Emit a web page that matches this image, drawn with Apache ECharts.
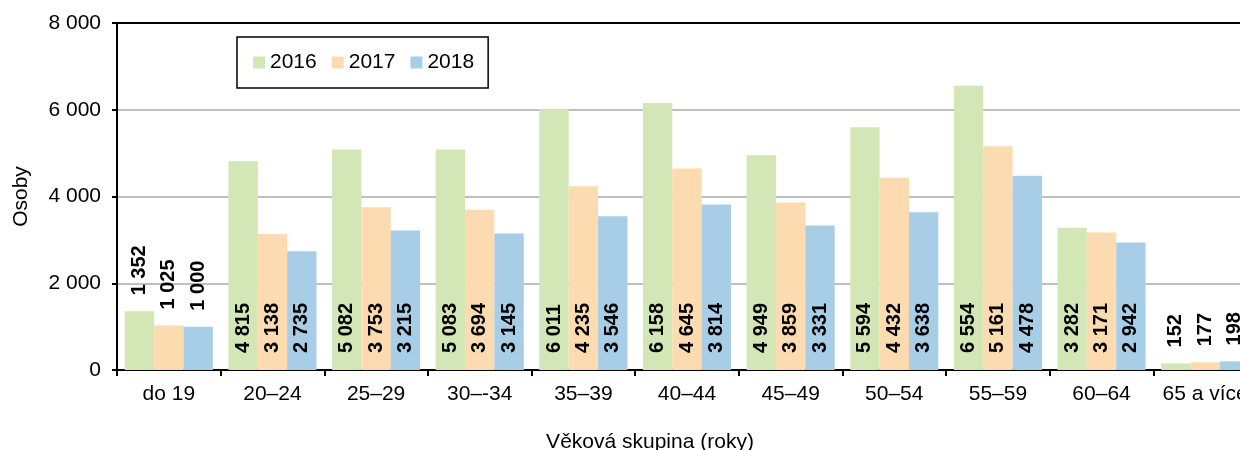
<!DOCTYPE html>
<html>
<head>
<meta charset="utf-8">
<script src="https://cdn.jsdelivr.net/npm/echarts@6/dist/echarts.min.js"></script>
<style>
html, body { margin: 0; padding: 0; background: #fff; }
#chart { width: 1240px; height: 450px; }
</style>
</head>
<body>
<div id="chart"></div>
<script>
var categories = ['do 19', '20–24', '25–29', '30–-34', '35–39', '40–44', '45–49', '50–54', '55–59', '60–64', '65 a více'];
var seriesNames = ['2016', '2017', '2018'];
var values2016 = [1352, 4815, 5082, 5083, 6011, 6158, 4949, 5594, 6554, 3282, 152];
var values2017 = [1025, 3138, 3753, 3694, 4235, 4645, 3859, 4432, 5161, 3171, 177];
var values2018 = [1000, 2735, 3215, 3145, 3546, 3814, 3331, 3638, 4478, 2942, 198];
var yTicks = [0, 2000, 4000, 6000, 8000];

var colors = ['#d3e7b6', '#fcdbb0', '#a8cde7'];
var fontName = "'Liberation Sans', Arial, sans-serif";

function fmt(v) {
    return String(v).replace(/\B(?=(\d{3})+(?!\d))/g, ' ');
}

// small bars get the label above the bar, the rest inside at the base
function buildData(arr) {
    return arr.map(function (v) {
        if (v < 2000) {
            return {value: v, label: {position: 'top', distance: 16}};
        }
        return v;
    });
}

function makeSeries(name, arr, color) {
    return {
        name: name,
        type: 'bar',
        barGap: '0%',
        barCategoryGap: '15%',
        itemStyle: {color: color},
        label: {
            show: true,
            position: 'insideBottom',
            rotate: 90,
            align: 'left',
            verticalAlign: 'middle',
            distance: 17,
            color: '#000',
            fontWeight: 'bold',
            fontSize: 20,
            fontFamily: fontName,
            formatter: function (p) { return fmt(p.value); }
        },
        data: buildData(arr)
    };
}

var myChart = echarts.init(document.getElementById('chart'));
var option = {
    animation: false,
    backgroundColor: '#fff',
    textStyle: {fontFamily: fontName},
    legend: {
        data: seriesNames,
        left: 237,
        top: 37,
        padding: [15, 14, 15, 16],
        borderColor: '#000',
        borderWidth: 1.5,
        icon: 'rect',
        itemWidth: 12,
        itemHeight: 12,
        itemGap: 15,
        textStyle: {fontSize: 21, color: '#000', fontFamily: fontName}
    },
    grid: {left: 117, top: 23, width: 1140, height: 347, containLabel: false, outerBoundsMode: 'none'},
    xAxis: [{
        type: 'category',
        data: categories,
        name: 'Věková skupina (roky)',
        nameLocation: 'middle',
        nameGap: 62,
        nameTextStyle: {fontSize: 21, color: '#000', padding: [0, 74, 0, 0]},
        axisLine: {lineStyle: {color: '#000', width: 2}},
        axisTick: {show: true, length: 6, lineStyle: {color: '#000', width: 2}},
        axisLabel: {fontSize: 21, color: '#000', margin: 14, interval: 0}
    }, {
        type: 'category',
        position: 'top',
        data: categories,
        axisLine: {lineStyle: {color: '#000', width: 2}},
        axisTick: {show: false},
        axisLabel: {show: false}
    }],
    yAxis: {
        type: 'value',
        min: yTicks[0],
        max: yTicks[yTicks.length - 1],
        interval: yTicks[1] - yTicks[0],
        name: 'Osoby',
        nameLocation: 'middle',
        nameGap: 85,
        nameTextStyle: {fontSize: 21, color: '#000'},
        axisLine: {show: true, lineStyle: {color: '#000', width: 2}},
        axisTick: {show: true, length: 5, lineStyle: {color: '#000', width: 2}},
        axisLabel: {
            fontSize: 21,
            color: '#000',
            margin: 16,
            formatter: function (v) { return fmt(v); }
        },
        splitLine: {lineStyle: {color: '#bfbfbf', width: 2}}
    },
    series: [
        makeSeries(seriesNames[0], values2016, colors[0]),
        makeSeries(seriesNames[1], values2017, colors[1]),
        makeSeries(seriesNames[2], values2018, colors[2])
    ]
};
myChart.setOption(option);
</script>
</body>
</html>
